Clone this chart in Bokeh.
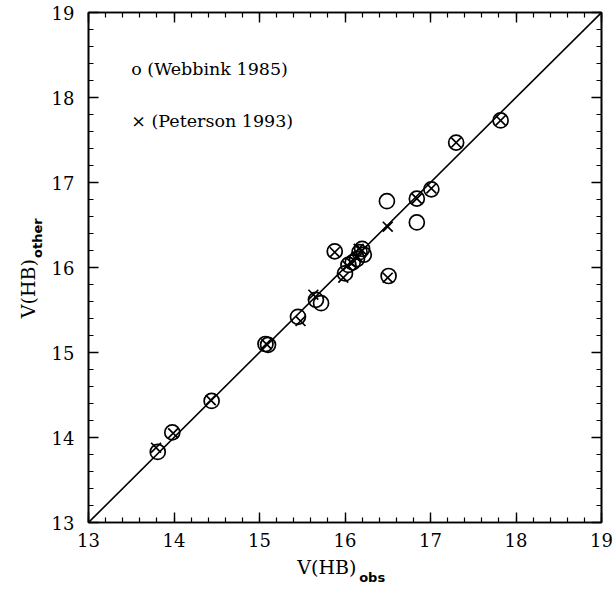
from bokeh.plotting import figure
from bokeh.models import (Range1d, LinearAxis, SingleIntervalTicker, FixedTicker,
                          Label, CustomJSTickFormatter)
from bokeh.embed import file_html
from bokeh.resources import INLINE

# --- data ---
webbink_obs = [13.81, 13.98, 14.44, 15.07, 15.10, 15.45, 15.66, 15.72, 15.88, 16.00,
               16.04, 16.09, 16.14, 16.17, 16.22, 16.20, 16.49, 16.51, 16.84, 16.84,
               17.01, 17.30, 17.82]
webbink_other = [13.83, 14.06, 14.43, 15.10, 15.09, 15.42, 15.62, 15.58, 16.19, 15.93,
                 16.03, 16.06, 16.10, 16.18, 16.15, 16.22, 16.78, 15.90, 16.53, 16.81,
                 16.92, 17.47, 17.73]
peterson_obs = [13.79, 13.99, 14.43, 15.08, 15.48, 15.63, 15.88, 15.98, 16.03, 16.08,
                16.15, 16.16, 16.20, 16.50, 16.50, 16.84, 17.01, 17.30, 17.82]
peterson_other = [13.88, 14.05, 14.44, 15.10, 15.37, 15.68, 16.18, 15.88, 16.02, 16.05,
                  16.12, 16.22, 16.20, 16.48, 15.88, 16.81, 16.93, 17.47, 17.73]
axis_min, axis_max = 13, 19
legend_labels = ["o  (Webbink 1985)", "\u00d7  (Peterson 1993)"]
x_title, x_sub = "V(HB)", "obs"
y_title, y_sub = "V(HB)", "other"

FONT = "DejaVu Serif"
SUBFONT = "DejaVu Sans"
NB = "\u00a0"

p = figure(width=613, height=591, output_backend="svg", toolbar_location=None,
           x_range=Range1d(axis_min, axis_max), y_range=Range1d(axis_min, axis_max),
           min_border_left=88, min_border_right=12, min_border_top=12,
           min_border_bottom=69, x_axis_location=None, y_axis_location=None)
p.grid.visible = False
p.outline_line_color = "black"
p.outline_line_width = 1.6
p.background_fill_color = "white"
p.border_fill_color = "white"


def make_axis(labels=True):
    ax = LinearAxis(ticker=SingleIntervalTicker(interval=1, num_minor_ticks=5))
    ax.major_tick_in = 10
    ax.major_tick_out = 0
    ax.minor_tick_in = 5
    ax.minor_tick_out = 0
    ax.axis_line_color = "black"
    ax.axis_line_width = 1.6
    ax.major_tick_line_width = 1.4
    ax.minor_tick_line_width = 1.2
    if labels:
        ax.major_label_text_font = FONT
        ax.major_label_text_font_size = "18px"
        ax.major_label_text_color = "black"
    else:
        ax.formatter = CustomJSTickFormatter(code="return ''")
        ax.major_label_text_font_size = "1px"
    return ax


def title_axis(text, font, size, style, standoff):
    ax = LinearAxis(ticker=FixedTicker(ticks=[]), axis_label=text)
    ax.axis_line_color = None
    ax.major_tick_line_color = None
    ax.minor_tick_line_color = None
    ax.major_tick_in = 0
    ax.major_tick_out = 0
    ax.minor_tick_in = 0
    ax.minor_tick_out = 0
    ax.major_label_standoff = 0
    ax.axis_label_text_font = font
    ax.axis_label_text_font_size = size
    ax.axis_label_text_font_style = style
    ax.axis_label_text_color = "black"
    ax.axis_label_standoff = standoff
    return ax


# bottom: tick labels + main title, then subscript pulled up next to it
xb = make_axis()
xb.major_label_standoff = 10
xb.axis_label = x_title + NB * 6
xb.axis_label_text_font = FONT
xb.axis_label_text_font_size = "19px"
xb.axis_label_text_font_style = "normal"
xb.axis_label_text_color = "black"
xb.axis_label_standoff = 6
p.add_layout(xb, "below")
p.add_layout(title_axis(NB * 12 + x_sub, SUBFONT, "13px", "bold", -11), "below")

# left: tick labels + subscript, then main title pulled in next to it
yl = make_axis()
yl.major_label_standoff = 14
yl.axis_label = NB * 13 + y_sub
yl.axis_label_text_font = SUBFONT
yl.axis_label_text_font_size = "13px"
yl.axis_label_text_font_style = "bold"
yl.axis_label_text_color = "black"
yl.axis_label_standoff = 4
p.add_layout(yl, "left")
p.add_layout(title_axis(y_title + NB * 7, FONT, "19px", "normal", -12), "left")

p.add_layout(make_axis(False), "above")
p.add_layout(make_axis(False), "right")

# identity line
p.line([axis_min, axis_max], [axis_min, axis_max], line_color="black", line_width=1.6)

p.scatter(webbink_obs, webbink_other, marker="circle", size=15,
          fill_color=None, line_color="black", line_width=1.7)
p.scatter(peterson_obs, peterson_other, marker="x", size=14,
          line_color="black", line_width=1.7)

# legend text
for i, t in enumerate(legend_labels):
    p.add_layout(Label(x=13.5, y=18.33 - 0.61 * i, text=t, text_font=FONT,
                       text_font_size="17.5px", text_baseline="middle",
                       text_color="black"))

open("out.html", "w").write(file_html(p, INLINE))
